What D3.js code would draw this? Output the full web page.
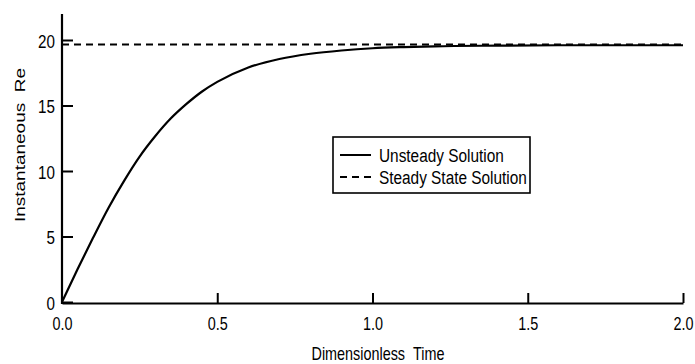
<!DOCTYPE html>
<html>
<head>
<meta charset="utf-8">
<script src="https://cdn.jsdelivr.net/npm/d3@7"></script>
<style>
  html, body { margin: 0; padding: 0; background: #fff; }
  svg { display: block; }
  text { font-family: "Liberation Sans", Arial, sans-serif; fill: #000; }
</style>
</head>
<body>
<svg id="chart" width="695" height="364"></svg>
<script>
// ---- data ----
const timeValues = [0, 0.05, 0.1, 0.15, 0.2, 0.25, 0.3, 0.35, 0.4, 0.45, 0.5, 0.6, 0.7, 0.8, 0.9, 1.0, 1.1, 1.2, 1.4, 1.6, 1.8, 2.0];
const unsteadyRe = [0, 2.5, 4.9, 7.2, 9.25, 11.1, 12.65, 14.0, 15.1, 16.05, 16.8, 17.9, 18.55, 18.95, 19.2, 19.37, 19.46, 19.52, 19.57, 19.6, 19.6, 19.6];
const steadyRe = 19.65;
const xTicks = [0, 0.5, 1.0, 1.5, 2.0];
const yTicks = [0, 5, 10, 15, 20];
const legendLabels = ["Unsteady Solution", "Steady State Solution"];
const xTitle = "Dimensionless\u00a0\u00a0Time";
const yTitle = "Instantaneous\u00a0\u00a0Re";

const svg = d3.select("#chart");
const SX = 0.8; // horizontal compression of the lettering

const x = d3.scaleLinear().domain([0, 2]).range([62, 683]);
const y = d3.scaleLinear().domain([0, 20]).range([302, 40]);
const yTop = 14;

// axes
const xAxis = d3.axisBottom(x).tickValues(xTicks).tickFormat(d3.format(".1f"))
  .tickSizeInner(-10).tickSizeOuter(0).tickPadding(15);
const gx = svg.append("g").attr("transform", "translate(0,303)").call(xAxis);
gx.select(".domain").attr("stroke-width", 2.2);
gx.selectAll(".tick line").attr("stroke-width", 2).attr("y2", -10);
gx.selectAll(".tick").filter(d => d === 0).select("line").remove();
gx.selectAll(".tick text")
  .attr("font-size", 18).attr("font-family", null)
  .attr("y", null).attr("dy", null)
  .attr("transform", `translate(0,27) scale(${SX},1)`);

const yAxis = d3.axisLeft(y).tickValues(yTicks).tickFormat(d3.format("d"))
  .tickSizeInner(-11).tickSizeOuter(0).tickPadding(7);
const gy = svg.append("g").attr("transform", "translate(62,0)").call(yAxis);
gy.select(".domain").attr("d", `M0,${yTop}V304`).attr("stroke-width", 2.2);
gy.selectAll(".tick line").attr("stroke-width", 2);
gy.selectAll(".tick text")
  .attr("font-size", 19).attr("font-family", null)
  .attr("x", null).attr("dy", null)
  .attr("transform", `translate(-7,7) scale(${SX},1)`);

// steady line
svg.append("line")
  .attr("x1", x(0)).attr("x2", x(2))
  .attr("y1", y(steadyRe)).attr("y2", y(steadyRe))
  .attr("stroke", "#000").attr("stroke-width", 2)
  .attr("stroke-dasharray", "7,5");

// unsteady curve
const line = d3.line().x((d, i) => x(timeValues[i])).y(d => y(d)).curve(d3.curveMonotoneX);
svg.append("path")
  .datum(unsteadyRe)
  .attr("d", line)
  .attr("fill", "none").attr("stroke", "#000").attr("stroke-width", 2.2);

// axis titles
svg.append("text")
  .attr("transform", `translate(378,360) scale(${SX},1)`)
  .attr("text-anchor", "middle").attr("font-size", 18)
  .text(xTitle);
svg.append("text")
  .attr("transform", `translate(25,145) scale(${SX},1) rotate(-90)`)
  .attr("text-anchor", "middle").attr("font-size", 19)
  .text(yTitle);

// legend
const lg = svg.append("g");
lg.append("rect").attr("x", 333).attr("y", 137).attr("width", 197).attr("height", 56)
  .attr("fill", "#fff").attr("stroke", "#000").attr("stroke-width", 1.6);
const rows = [{y: 155, dash: null}, {y: 177, dash: "7,5"}];
rows.forEach((r, i) => {
  lg.append("line").attr("x1", 340).attr("x2", 371).attr("y1", r.y).attr("y2", r.y)
    .attr("stroke", "#000").attr("stroke-width", 2)
    .attr("stroke-dasharray", r.dash);
  lg.append("text")
    .attr("transform", `translate(379,${r.y + 6.5}) scale(0.81,1)`)
    .attr("font-size", 19)
    .text(legendLabels[i]);
});
</script>
</body>
</html>
